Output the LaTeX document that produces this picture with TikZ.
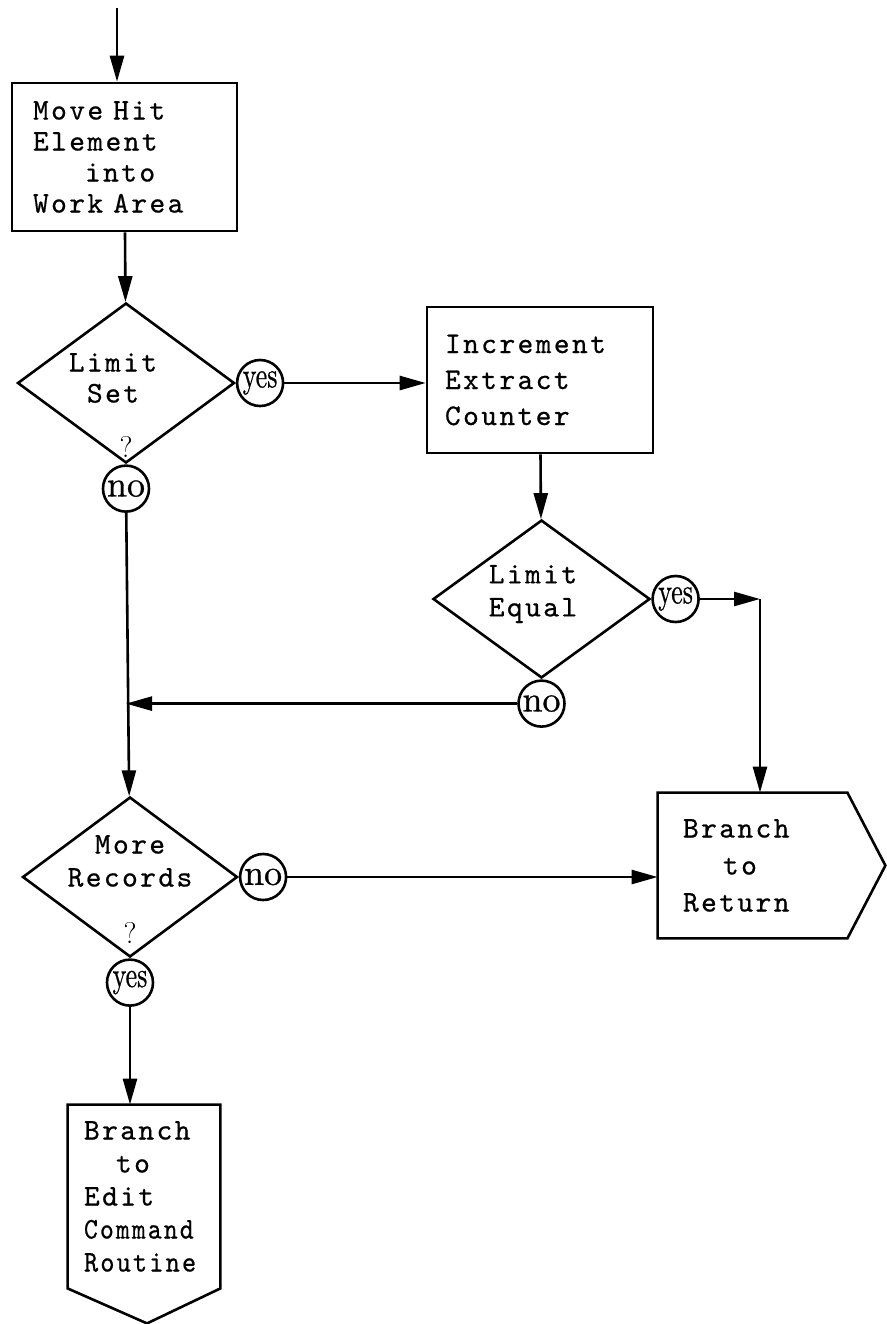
\documentclass[tikz,border=0pt]{standalone}
\usepackage{fontspec}
\usepackage{graphicx}
\usepackage{tikz}
\usetikzlibrary{arrows.meta}
\usetikzlibrary{calc}
\usetikzlibrary{shapes.geometric}
\usetikzlibrary{positioning}
\newfontfamily\twfont{lmmono10-regular.otf}[LetterSpace=8, FakeBold=0.6]
\newfontfamily\ansfont{lmroman10-regular.otf}[FakeBold=0.8]
\newcommand{\tw}{\fontsize{15}{16.5}\selectfont\twfont}
\newcommand{\ans}{\fontsize{18}{18}\selectfont\ansfont}

\begin{document}
\begin{tikzpicture}[x=0.5pt, y=-0.5pt,
      line/.style={line width=1.3pt},
      flow/.style={line width=1.3pt, -{Triangle[length=13pt,width=7pt]}},
      process/.style={draw, line width=1.3pt, rectangle, align=left, font=\tw, inner ysep=0pt},
      decision/.style={draw, line width=1.3pt, diamond, inner sep=0pt},
      dtext/.style={align=center, font=\tw},
      answer/.style={draw, line width=1.3pt, circle, inner sep=0pt, minimum size=23pt, font=\ans},
      query/.style={font=\fontsize{15}{15}\selectfont\rmfamily, inner sep=0pt}
      ]
      \useasboundingbox (0,0) rectangle (887,1324);

      % boxes
      \coordinate (start) at (117,8);
      \node[process, text width=91.5pt, inner xsep=10.5pt, minimum height=74pt] (move) at (124.5,157)
        {Move Hit\\[-1pt]Element\\[-1pt]\hspace*{26pt}into\\[-1pt]Work Area};
      \node[process, text width=95pt, inner xsep=9pt, minimum height=73pt] (inc) at (540,380)
        {Increment\\[1.5pt]Extract\\[1.5pt]Counter};

      % decisions
      \node[decision, minimum width=108.5pt, minimum height=80pt] (lset) at (126,383) {};
      \node[dtext] (lsetText) at (113,378) {Limit\\[-1pt]Set};
      \node[query, above=3pt of lset.south] (q1) {?};
      \node[answer, right=0pt of lset.east] (yes1) {\scalebox{0.72}[1]{yes}};
      \node[answer, below=0pt of lset.south] (no1) {no};

      \node[decision, minimum width=108.5pt, minimum height=79pt] (leq) at (541.5,599) {};
      \node[dtext] (leqText) at (533,594) {Limit\\Equal};
      \node[answer, right=0pt of leq.east] (yes2) {\scalebox{0.72}[1]{yes}};
      \node[answer, below=0pt of leq.south] (no2) {no};

      \node[decision, minimum width=107.5pt, minimum height=80pt] (mrec) at (130,877) {};
      \node[dtext] (mrecText) at (130,861) {More\\Records};
      \node[query, above=7pt of mrec.south] (q3) {?};
      \node[answer, right=0pt of mrec.east] (no3) {no};
      \node[answer, below=0pt of mrec.south] (yes3) {\scalebox{0.72}[1]{yes}};

      % exits
      \node[font=\tw, align=left, text width=69.5pt, inner xsep=12.5pt, minimum height=72.5pt, inner ysep=0pt] (ret) at (752.5,865.5)
        {Branch\\[2pt]\hspace*{20pt}to\\[2pt]Return};
      \draw[line] (ret.north west) -- (ret.north east) -- ($(ret.east)+(38,0)$) -- (ret.south east) -- (ret.south west) -- cycle;

      \node[font=\tw, align=left, text width=60pt, inner xsep=8pt, minimum height=91.5pt, inner ysep=0pt] (edit) at (144,1196.5)
        {Branch\\\hspace*{16pt}to\\Edit\\\scalebox{0.88}[1]{Command}\\\scalebox{0.9}[1]{Routine}};
      \draw[line] (edit.north west) -- (edit.north east) -- (edit.south east) -- ($(edit.south)+(3,35)$) -- (edit.south west) -- cycle;

      % connectors
      \coordinate (corner) at (760,599);
      \draw[flow] (start) -- (start |- move.north);
      \draw[flow] (move) -- (lset);
      \draw[flow] (yes1) -- (yes1 -| inc.west);
      \draw[flow] (inc) -- (leq);
      \draw[flow] (yes2) -- (corner);
      \draw[flow] (corner) -- (corner |- ret.north);
      \draw[flow] (no2) -- (no2 -| no1);
      \draw[flow] (no1) -- (mrec);
      \draw[flow] (no3) -- (no3 -| ret.west);
      \draw[flow] (yes3) -- (yes3 |- edit.north);
\end{tikzpicture}
\end{document}
